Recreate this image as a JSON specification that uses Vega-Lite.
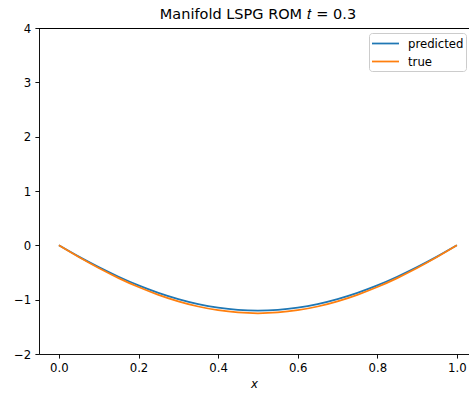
{
  "$schema": "https://vega.github.io/schema/vega-lite/v6.json",
  "autosize": {"type": "none"},
  "width": 430,
  "height": 326,
  "padding": {"left": 39, "top": 28, "right": 0, "bottom": 42},
  "background": "white",
  "config": {
    "view": {"stroke": null},
    "font": "DejaVu Sans",
    "axis": {"labelFont": "DejaVu Sans", "titleFont": "DejaVu Sans", "labelFontSize": 11.7, "titleFontSize": 11.7, "labelColor": "#000", "titleColor": "#000", "domainColor": "#000", "tickColor": "#000", "domainWidth": 0.93, "tickWidth": 0.93, "tickSize": 4.1, "labelPadding": 4.1, "grid": false, "titleFontWeight": "normal"}
  },
  "title": {"text": "Manifold LSPG ROM 𝑡 = 0.3", "font": "DejaVu Sans", "fontSize": 14.5, "fontWeight": "normal", "color": "#000", "anchor": "middle", "dx": 4, "offset": 1},
  "data": {"values": [
    {"x": 0.0, "y": 0.0, "series": "predicted"},
    {"x": 0.05, "y": -0.208, "series": "predicted"},
    {"x": 0.1, "y": -0.401, "series": "predicted"},
    {"x": 0.15, "y": -0.578, "series": "predicted"},
    {"x": 0.2, "y": -0.737, "series": "predicted"},
    {"x": 0.25, "y": -0.874, "series": "predicted"},
    {"x": 0.3, "y": -0.989, "series": "predicted"},
    {"x": 0.35, "y": -1.081, "series": "predicted"},
    {"x": 0.4, "y": -1.147, "series": "predicted"},
    {"x": 0.45, "y": -1.187, "series": "predicted"},
    {"x": 0.5, "y": -1.2, "series": "predicted"},
    {"x": 0.55, "y": -1.187, "series": "predicted"},
    {"x": 0.6, "y": -1.147, "series": "predicted"},
    {"x": 0.65, "y": -1.081, "series": "predicted"},
    {"x": 0.7, "y": -0.989, "series": "predicted"},
    {"x": 0.75, "y": -0.874, "series": "predicted"},
    {"x": 0.8, "y": -0.737, "series": "predicted"},
    {"x": 0.85, "y": -0.578, "series": "predicted"},
    {"x": 0.9, "y": -0.401, "series": "predicted"},
    {"x": 0.95, "y": -0.208, "series": "predicted"},
    {"x": 1.0, "y": 0.0, "series": "predicted"},
    {"x": 0.0, "y": 0.0, "series": "true"},
    {"x": 0.05, "y": -0.216, "series": "true"},
    {"x": 0.1, "y": -0.418, "series": "true"},
    {"x": 0.15, "y": -0.603, "series": "true"},
    {"x": 0.2, "y": -0.768, "series": "true"},
    {"x": 0.25, "y": -0.911, "series": "true"},
    {"x": 0.3, "y": -1.031, "series": "true"},
    {"x": 0.35, "y": -1.126, "series": "true"},
    {"x": 0.4, "y": -1.194, "series": "true"},
    {"x": 0.45, "y": -1.236, "series": "true"},
    {"x": 0.5, "y": -1.25, "series": "true"},
    {"x": 0.55, "y": -1.236, "series": "true"},
    {"x": 0.6, "y": -1.194, "series": "true"},
    {"x": 0.65, "y": -1.126, "series": "true"},
    {"x": 0.7, "y": -1.031, "series": "true"},
    {"x": 0.75, "y": -0.911, "series": "true"},
    {"x": 0.8, "y": -0.768, "series": "true"},
    {"x": 0.85, "y": -0.603, "series": "true"},
    {"x": 0.9, "y": -0.418, "series": "true"},
    {"x": 0.95, "y": -0.216, "series": "true"},
    {"x": 1.0, "y": 0.0, "series": "true"}
  ]},
  "layer": [
    {
      "mark": {"type": "rule", "color": "#000", "strokeWidth": 0.93, "yOffset": 0.5},
      "encoding": {"y": {"datum": 4, "type": "quantitative"}}
    },
    {
      "mark": {"type": "line", "strokeWidth": 1.75, "interpolate": "monotone"},
      "encoding": {
        "x": {"field": "x", "type": "quantitative", "scale": {"domain": [-0.05, 1.0304], "nice": false, "zero": false},
              "axis": {"values": [0, 0.2, 0.4, 0.6, 0.8, 1.0], "format": ".1f", "title": "x", "titleFontStyle": "italic", "titlePadding": 5}},
        "y": {"field": "y", "type": "quantitative", "scale": {"domain": [-2, 4], "nice": false, "zero": false},
              "axis": {"values": [-2, -1, 0, 1, 2, 3, 4], "format": "d", "title": null, "labelExpr": "replace(datum.label, '-', '−')"}},
        "color": {"field": "series", "type": "nominal", "scale": {"domain": ["predicted", "true"], "range": ["#1f77b4", "#ff7f0e"]},
                  "legend": {"orient": "none", "legendX": 330, "legendY": 5, "title": null, "symbolType": "M-1.8,0H1.8", "symbolStrokeWidth": 1.75, "symbolSize": 225, "symbolOffset": 6, "labelFontSize": 11.7, "labelFont": "DejaVu Sans", "labelColor": "#000", "labelExpr": "datum.label + '\u00a0\u00a0'", "strokeColor": "#cccccc", "fillColor": "white", "cornerRadius": 3, "padding": 2, "rowPadding": 2, "labelOffset": 14}}
      }
    }
  ]
}
